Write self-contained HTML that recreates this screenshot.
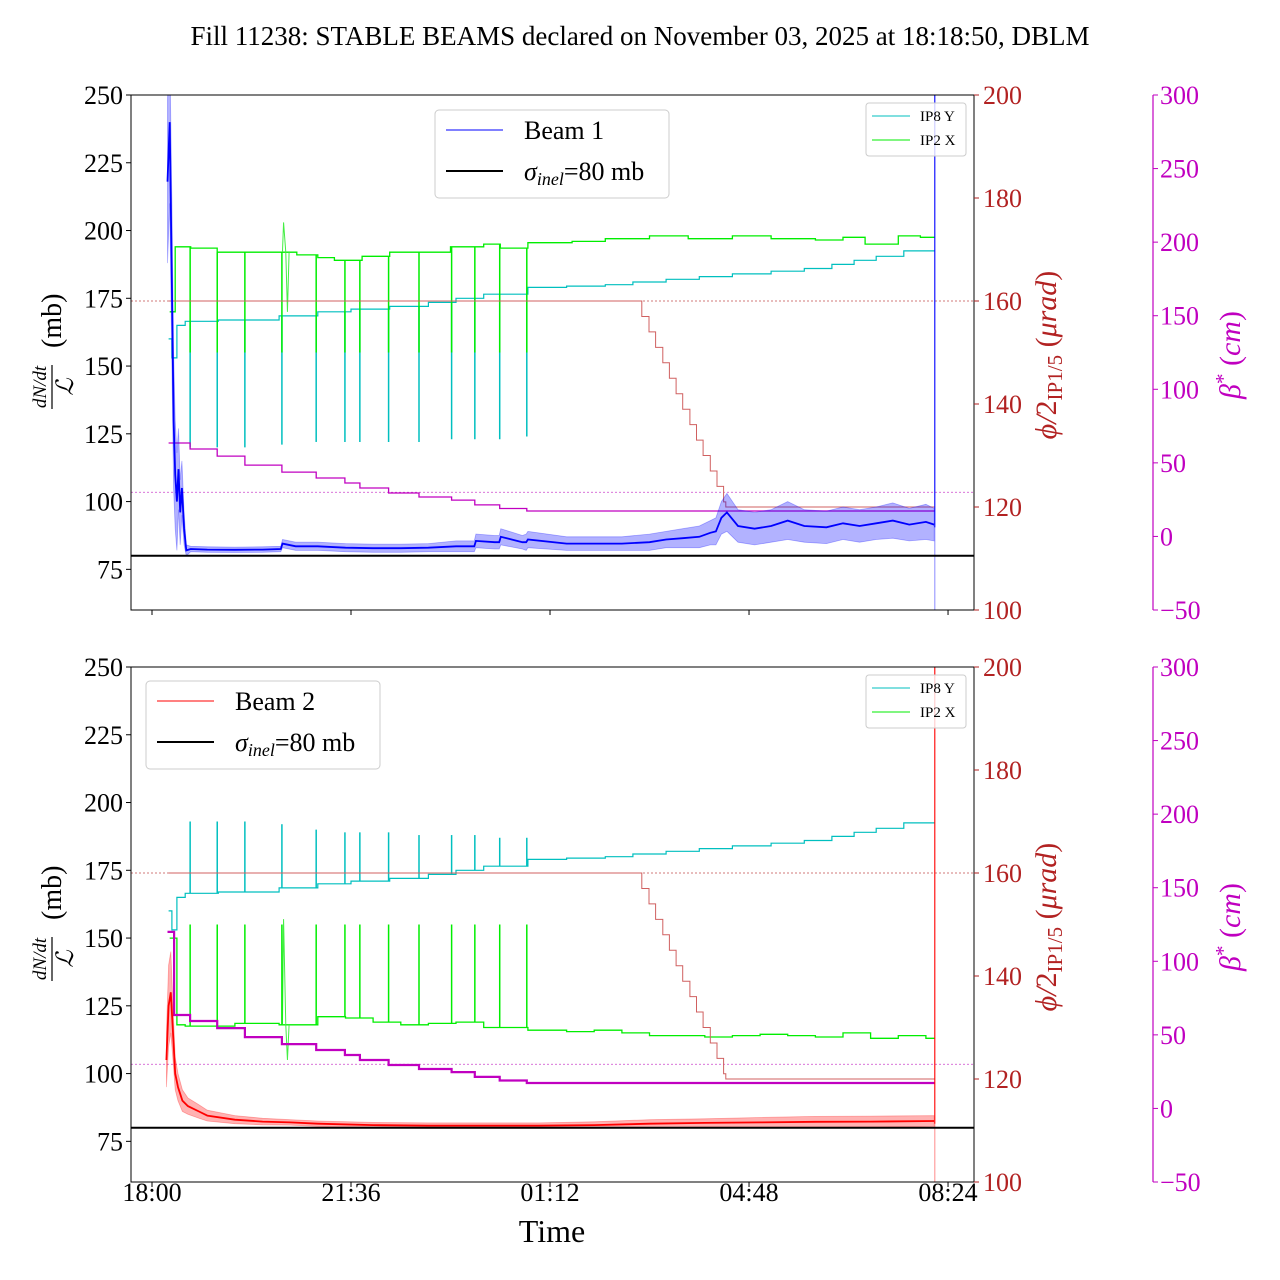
<!DOCTYPE html>
<html><head><meta charset="utf-8">
<style>
html,body{margin:0;padding:0;background:#fff;}
svg{display:block;font-family:"Liberation Serif",serif;}
</style></head>
<body>
<svg id="chart" width="1280" height="1280" viewBox="0 0 1280 1280"></svg>
<script>
// ---------- data (hours since 18:00) ----------
const xTickHours = [0, 3.6, 7.2, 10.8, 14.4];
const xTickLabels = ["18:00", "21:36", "01:12", "04:48", "08:24"];
const leftTicks = [75, 100, 125, 150, 175, 200, 225, 250];
const redTicks = [100, 120, 140, 160, 180, 200];
const magTicks = [-50, 0, 50, 100, 150, 200, 250, 300];
const endHour = 14.16;

const spikeHours = [0.69, 1.18, 1.68, 2.35, 2.97, 3.49, 3.76, 4.28, 4.83, 5.42, 5.84, 6.29, 6.78];

const cyanHours  = [0.30, 0.36, 0.45, 0.60, 1.20, 2.30, 3.00, 3.60, 4.30, 5.00, 5.50, 6.00, 6.80, 7.50, 8.20, 8.70, 9.30, 9.90, 10.50, 11.20, 11.80, 12.30, 12.70, 13.10, 13.60];
const cyanValues = [160, 153, 165, 166.5, 167, 168.5, 170, 171, 172, 173.5, 175, 176.5, 179, 179.5, 180, 181, 182, 183, 184, 185, 186, 187.5, 189, 190.5, 192.5];
const cyanTopSpikeLow = [120, 120, 120, 121, 122, 122, 122, 122, 122, 123, 123, 123, 124];
const cyanBotSpikeHigh = [193, 193, 193, 192, 190, 189, 189, 189, 188, 188, 188, 187, 187];

const greenTopHours  = [0.32, 0.42, 0.70, 1.18, 2.35, 2.62, 3.00, 3.30, 3.80, 4.30, 4.80, 5.40, 6.00, 6.30, 6.80, 7.60, 8.20, 9.00, 9.70, 10.50, 11.20, 12.00, 12.50, 12.90, 13.50, 13.90];
const greenTopValues = [170, 194, 193.5, 192, 192, 191, 190, 189, 190.5, 192, 192, 194, 195, 193.5, 195.5, 196, 197, 198, 197, 198, 197, 196.5, 197.5, 195, 198, 197.5];
const greenBotHours  = [0.32, 0.45, 0.60, 1.50, 2.30, 2.70, 3.00, 3.50, 4.00, 4.50, 5.00, 5.50, 6.00, 6.80, 7.50, 8.00, 8.50, 9.00, 9.50, 10.00, 10.50, 11.00, 11.50, 12.00, 12.50, 13.00, 13.50, 14.00];
const greenBotValues = [150, 118, 117.5, 118.5, 118, 118, 121, 120.5, 119, 118, 118.5, 119, 117, 116, 115.5, 116, 115, 114, 114, 113.5, 114, 114.5, 114, 113.5, 115, 113, 114, 113];

const angleHours  = [0.30, 8.86, 8.99, 9.11, 9.24, 9.36, 9.48, 9.60, 9.73, 9.85, 9.97, 10.10, 10.22, 10.34, 10.38];
const angleValues = [160, 157, 154, 151, 148, 145, 142, 139, 136, 133, 130, 127, 124, 121, 120];

const betaTopHours  = [0.30, 0.69, 1.18, 1.68, 2.35, 2.97, 3.49, 3.76, 4.28, 4.83, 5.42, 5.84, 6.29, 6.78];
const betaTopValues = [63.5, 59.4, 54.6, 48.5, 43.7, 39.7, 36.3, 32.9, 29.5, 26.8, 24.7, 21.4, 19, 17.3];
const betaBotHours  = [0.28, 0.40, 0.69, 1.18, 1.68, 2.35, 2.97, 3.49, 3.76, 4.28, 4.83, 5.42, 5.84, 6.29, 6.78];
const betaBotValues = [120, 63.5, 59.4, 54.6, 48.5, 43.7, 39.7, 36.3, 32.9, 29.5, 26.8, 24.7, 21.4, 19, 17.3];

const beam1Hours  = [0.28, 0.32, 0.36, 0.39, 0.42, 0.45, 0.48, 0.51, 0.54, 0.58, 0.62, 0.70, 1.00, 1.50, 2.00, 2.33, 2.36, 2.60, 3.00, 3.50, 4.00, 4.50, 5.00, 5.50, 5.83, 5.86, 6.20, 6.28, 6.31, 6.70, 6.77, 6.80, 7.50, 8.00, 8.50, 9.00, 9.30, 9.60, 9.90, 10.10, 10.20, 10.30, 10.40, 10.60, 10.90, 11.20, 11.50, 11.80, 12.20, 12.50, 12.80, 13.10, 13.40, 13.70, 14.00, 14.15];
const beam1Mean   = [218, 240, 180, 130, 110, 100, 112, 96, 105, 90, 82, 82.5, 82.3, 82.2, 82.3, 82.5, 84.5, 83.5, 83.5, 83, 82.8, 82.8, 83, 83.5, 83.5, 85.5, 85, 85, 87, 85, 85, 86, 84.5, 84.5, 84.5, 85, 86, 86.5, 87, 88.5, 89, 94, 96, 91, 90, 91, 93, 91, 90.5, 92, 91, 92, 93, 91.5, 92.5, 91.5];
const beam1Spread = [30, 30, 30, 25, 20, 18, 15, 12, 10, 6, 2, 1, 1, 1, 1, 1, 1.5, 1.5, 1.5, 1.5, 1.5, 1.5, 1.5, 2, 2, 2.5, 2.5, 2.5, 3, 2.5, 3, 3, 2.5, 2.5, 2.5, 3, 3, 3.5, 4, 4.5, 5, 6, 7, 6, 6, 6, 7, 6, 6, 6, 6, 6, 6.5, 6, 6.5, 6];

const beam2Hours  = [0.26, 0.30, 0.34, 0.38, 0.42, 0.47, 0.55, 0.65, 0.85, 1.00, 1.50, 2.00, 2.50, 3.00, 4.00, 5.00, 6.00, 7.00, 8.00, 9.00, 10.00, 11.00, 12.00, 13.00, 14.15];
const beam2Mean   = [105, 125, 130, 115, 100, 95, 90, 88, 86, 84.5, 83, 82.3, 82, 81.5, 81, 80.8, 80.8, 80.8, 81, 81.5, 81.8, 82, 82.2, 82.3, 82.5];
const beam2Spread = [10, 15, 15, 10, 6, 5, 4, 3, 2.5, 2, 1.5, 1.2, 1, 1, 1, 1, 1, 1, 1.2, 1.5, 1.5, 1.8, 2, 2, 2];

// ---------- helpers ----------
const NS = "http://www.w3.org/2000/svg";
const svg = document.getElementById("chart");
const X0 = 131, X1 = 974, PX0 = 152, PXH = 55.28;
function xs(t) { return PX0 + t * PXH; }
function yL(v, off) { return off + 95 + (250 - v) * (515 / 190); }
function yR(v, off) { return off + 95 + (200 - v) * 5.15; }
function yM(v, off) { return off + 95 + (300 - v) * (515 / 350); }
function mk(tag, attrs, parent) {
  const e = document.createElementNS(NS, tag);
  for (const k in attrs) e.setAttribute(k, attrs[k]);
  (parent || svg).appendChild(e);
  return e;
}
function stepAt(hs, vs, t) {
  let v = vs[0];
  for (let i = 0; i < hs.length; i++) if (hs[i] <= t) v = vs[i];
  return v;
}
function stepPath(hs, vs, tEnd, yf, off) {
  let d = "M" + xs(hs[0]).toFixed(1) + " " + yf(vs[0], off).toFixed(1);
  for (let i = 1; i < hs.length; i++) {
    d += "H" + xs(hs[i]).toFixed(1) + "V" + yf(vs[i], off).toFixed(1);
  }
  d += "H" + xs(tEnd).toFixed(1);
  return d;
}
function txt(s, x, y, size, attrs, parent) {
  const e = mk("text", Object.assign({x: x, y: y, "font-size": size}, attrs || {}), parent);
  e.textContent = s;
  return e;
}

// title
const title = txt("Fill 11238: STABLE BEAMS declared on November 03, 2025 at 18:18:50, DBLM", 640, 45, 27, {"text-anchor": "middle"});



function drawPanel(off, isTop) {
  const g = mk("g", {});
  
  
  const clipId = "clip" + off;
  const cp = mk("clipPath", {id: clipId}, g);
  mk("rect", {x: X0, y: off + 95, width: X1 - X0, height: 515}, cp);
  const plot = mk("g", {"clip-path": "url(#" + clipId + ")"}, g);

  const d1 = mk("line", {x1: X0, x2: X1, y1: yR(160, off), y2: yR(160, off), stroke: "#b22222", "stroke-width": 0.8, "stroke-dasharray": "2,2", opacity: 0.8}, plot);
  
  
  const d2 = mk("line", {x1: X0, x2: X1, y1: yM(30, off), y2: yM(30, off), stroke: "#cc44cc", "stroke-width": 0.8, "stroke-dasharray": "2,2"}, plot);
  
  

  const gh = isTop ? greenTopHours : greenBotHours;
  const gv = isTop ? greenTopValues : greenBotValues;
  const green = mk("path", {d: stepPath(gh, gv, endHour, yL, off), fill: "none", stroke: "#00ee00", "stroke-width": 1.3}, plot);
  
  
  const gg = stepAt(gh, gv, 2.4);
  const glitch = mk("path", {d: "M" + xs(2.36) + " " + yL(gg, off) + "L" + xs(2.38) + " " + yL(isTop ? 203 : 157, off) + "L" + xs(2.42) + " " + yL(gg, off) + "L" + xs(2.45) + " " + yL(isTop ? 170 : 105, off) + "L" + xs(2.48) + " " + yL(gg, off), fill: "none", stroke: "#44ee44", "stroke-width": 1}, plot);
  
  

  const cyan = mk("path", {d: stepPath(cyanHours, cyanValues, endHour, yL, off), fill: "none", stroke: "#00bfbf", "stroke-width": 1.2}, plot);
  
  

  spikeHours.forEach(function (t, i) {
    const gl = stepAt(gh, gv, t), cl = stepAt(cyanHours, cyanValues, t);
    let sg, sc;
    if (isTop) {
      sc = mk("line", {x1: xs(t), x2: xs(t), y1: yL(cl, off), y2: yL(cyanTopSpikeLow[i], off), stroke: "#00bfbf", "stroke-width": 1.5}, plot);
      sg = mk("line", {x1: xs(t), x2: xs(t), y1: yL(gl, off), y2: yL(155, off), stroke: "#00ee00", "stroke-width": 1.5}, plot);
    } else {
      sc = mk("line", {x1: xs(t), x2: xs(t), y1: yL(cl, off), y2: yL(cyanBotSpikeHigh[i], off), stroke: "#00bfbf", "stroke-width": 1.5}, plot);
      sg = mk("line", {x1: xs(t), x2: xs(t), y1: yL(gl, off), y2: yL(155, off), stroke: "#00ee00", "stroke-width": 1.5}, plot);
    }
    
    
    
    
  });

  const ang = mk("path", {d: stepPath(angleHours, angleValues, endHour, yR, off), fill: "none", stroke: "#d06060", "stroke-width": 1}, plot);
  
  

  const bh = isTop ? betaTopHours : betaBotHours;
  const bv = isTop ? betaTopValues : betaBotValues;
  const beta = mk("path", {d: stepPath(bh, bv, endHour, yM, off), fill: "none", stroke: "#c000c0", "stroke-width": isTop ? 1.3 : 2.2}, plot);
  
  

  const hs = isTop ? beam1Hours : beam2Hours;
  const ms = isTop ? beam1Mean : beam2Mean;
  const sp = isTop ? beam1Spread : beam2Spread;
  const col = isTop ? "#0000ff" : "#ff0000";
  let up = "", dn = "", line = "";
  hs.forEach(function (t, i) {
    up += (i ? "L" : "M") + xs(t).toFixed(1) + " " + yL(ms[i] + sp[i], off).toFixed(1);
    line += (i ? "L" : "M") + xs(t).toFixed(1) + " " + yL(ms[i], off).toFixed(1);
  });
  for (let i = hs.length - 1; i >= 0; i--) dn += "L" + xs(hs[i]).toFixed(1) + " " + yL(ms[i] - sp[i], off).toFixed(1);
  const band = mk("path", {d: up + dn + "Z", fill: col, "fill-opacity": 0.3, stroke: col, "stroke-opacity": 0.3, "stroke-width": 0.8}, plot);
  
  
  const mean = mk("path", {d: line, fill: "none", stroke: col, "stroke-width": 1.8}, plot);
  
  

  const ve = mk("line", {x1: xs(endHour), x2: xs(endHour), y1: off + 95, y2: yL(ms[ms.length - 1] - 1, off), stroke: col, "stroke-width": 1.3, opacity: 0.85}, plot);
  
  
  const ve2 = mk("line", {x1: xs(endHour), x2: xs(endHour), y1: yL(ms[ms.length - 1] - 1, off), y2: off + 610, stroke: col, "stroke-width": 1.3, opacity: 0.35}, plot);
  
  

  const sig = mk("line", {x1: X0, x2: X1, y1: yL(80, off), y2: yL(80, off), stroke: "#000", "stroke-width": 2}, plot);
  
  

  const fr = mk("rect", {x: X0, y: off + 95, width: X1 - X0, height: 515, fill: "none", stroke: "#000", "stroke-width": 1}, g);
  
  

  leftTicks.forEach(function (v) {
    const y = yL(v, off);
    mk("line", {x1: X0 - 5, x2: X0, y1: y, y2: y, stroke: "#000"}, g);
    const t = txt(String(v), X0 - 8, y + 9, 26, {"text-anchor": "end"}, g);
    
    
  });
  redTicks.forEach(function (v) {
    const y = yR(v, off);
    mk("line", {x1: X1, x2: X1 + 5, y1: y, y2: y, stroke: "#b22222"}, g);
    const t = txt(String(v), X1 + 9, y + 9, 26, {fill: "#b22222"}, g);
    
    
  });
  const ms2 = mk("line", {x1: 1153, x2: 1153, y1: off + 95, y2: off + 610, stroke: "#c000c0", "stroke-width": 1.2}, g);
  
  
  magTicks.forEach(function (v) {
    const y = yM(v, off);
    mk("line", {x1: 1153, x2: 1158, y1: y, y2: y, stroke: "#c000c0"}, g);
    const t = txt(v < 0 ? "\u2212" + Math.abs(v) : String(v), 1160, y + 9, 26, {fill: "#c000c0"}, g);
    
    
  });
  xTickHours.forEach(function (h, i) {
    const x = xs(h);
    mk("line", {x1: x, x2: x, y1: off + 610, y2: off + 615, stroke: "#000"}, g);
    if (!isTop) {
      const t = txt(xTickLabels[i], x, off + 629, 26, {"text-anchor": "middle"}, g);
      
      
    }
  });

  const yl = mk("g", {transform: "translate(52," + (off + 352) + ") rotate(-90)"}, g);
  
  
  txt("dN/dt", -35, -6, 19, {"text-anchor": "middle", "font-style": "italic"}, yl);
  mk("line", {x1: -57, x2: -13, y1: 0, y2: 0, stroke: "#000", "stroke-width": 1.2}, yl);
  txt("\u2112", -35, 21, 24, {"text-anchor": "middle", "font-style": "italic"}, yl);
  txt("(mb)", 4, 9, 28, {}, yl);

  const rl = mk("text", {transform: "translate(1056," + (off + 355) + ") rotate(-90)", "text-anchor": "middle", "font-size": 30, fill: "#b22222"}, g);
  
  
  rl.innerHTML = '<tspan font-style="italic">\u03d5/</tspan>2<tspan font-size="21" dy="6">IP1/5</tspan><tspan dy="-6"> (</tspan><tspan font-style="italic">\u03bcrad</tspan>)';

  const ml = mk("text", {transform: "translate(1240," + (off + 355) + ") rotate(-90)", "text-anchor": "middle", "font-size": 30, fill: "#c000c0"}, g);
  
  
  ml.innerHTML = '<tspan font-style="italic">\u03b2</tspan><tspan font-size="21" dy="-10">*</tspan><tspan dy="10"> (</tspan><tspan font-style="italic">cm</tspan>)';

  const lx = isTop ? 435 : 146, ly = off + (isTop ? 110 : 109);
  const lg = mk("g", {}, g);
  
  
  mk("rect", {x: lx, y: ly, width: 234, height: 88, rx: 4, fill: "#fff", "fill-opacity": 0.8, stroke: "#ccc"}, lg);
  mk("line", {x1: lx + 11, x2: lx + 68, y1: ly + 20, y2: ly + 20, stroke: col, "stroke-width": 1}, lg);
  const le1 = txt(isTop ? "Beam 1" : "Beam 2", lx + 89, ly + 29, 26, {}, lg);
  
  
  mk("line", {x1: lx + 11, x2: lx + 68, y1: ly + 61, y2: ly + 61, stroke: "#000", "stroke-width": 2}, lg);
  const le2 = mk("text", {x: lx + 89, y: ly + 70, "font-size": 26}, lg);
  
  
  le2.innerHTML = '<tspan font-style="italic">\u03c3</tspan><tspan font-style="italic" font-size="18" dy="5">inel</tspan><tspan dy="-5">=80 mb</tspan>';

  const sg2 = mk("g", {}, g);
  
  
  mk("rect", {x: 866, y: off + 103, width: 100, height: 53, rx: 3, fill: "#fff", "fill-opacity": 0.8, stroke: "#ccc"}, sg2);
  mk("line", {x1: 872, x2: 910, y1: off + 116, y2: off + 116, stroke: "#00bfbf"}, sg2);
  const s1 = txt("IP8 Y", 920, off + 121, 15, {}, sg2);
  
  
  mk("line", {x1: 872, x2: 910, y1: off + 140, y2: off + 140, stroke: "#00ee00"}, sg2);
  const s2 = txt("IP2 X", 920, off + 145, 15, {}, sg2);
  
  
}

drawPanel(0, true);
drawPanel(572, false);

const xt = txt("Time", 552, 1242, 32, {"text-anchor": "middle"});


</script>
</body></html>
